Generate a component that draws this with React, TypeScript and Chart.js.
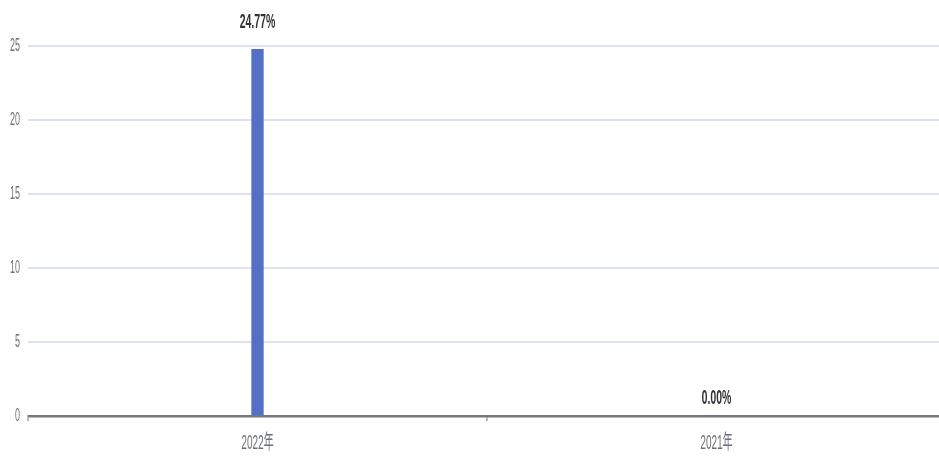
import React, { useEffect, useRef } from "react";
import { Chart, registerables } from "chart.js";

Chart.register(...registerables);

const categories: string[] = ["2022年", "2021年"];
const values: number[] = [24.77, 0];
const yTicks: number[] = [0, 5, 10, 15, 20, 25];

const SX = 0.5; // horizontal squeeze of the reference rendering
const FONT = "'Liberation Sans', 'Noto Sans CJK SC', sans-serif";

const valueLabels = {
  id: "valueLabels",
  afterDatasetsDraw(chart: any) {
    const ctx = chart.ctx;
    const meta = chart.getDatasetMeta(0);
    ctx.save();
    ctx.font = "bold 21px " + FONT;
    ctx.fillStyle = "#333333";
    ctx.textAlign = "center";
    ctx.textBaseline = "bottom";
    meta.data.forEach((el: any, i: number) => {
      const v = values[i];
      const gap = v > 0 ? 17 : 7;
      ctx.fillText(v.toFixed(2) + "%", el.x, el.y - gap);
    });
    ctx.restore();
  },
};

export default function App() {
  const ref = useRef<HTMLCanvasElement | null>(null);
  useEffect(() => {
    document.body.style.margin = "0";
    document.body.style.overflow = "hidden";
    const chart = new Chart(ref.current as HTMLCanvasElement, {
      type: "bar",
      data: {
        labels: categories,
        datasets: [
          {
            data: values,
            backgroundColor: "#5470C6",
            barThickness: 24,
          },
        ],
      },
      options: {
        animation: false,
        responsive: true,
        maintainAspectRatio: false,
        layout: { padding: { top: 46, left: 4, right: 0, bottom: 0 } },
        plugins: { legend: { display: false }, tooltip: { enabled: false } },
        scales: {
          x: {
            grid: {
              offset: true,
              drawOnChartArea: false,
              drawTicks: true,
              tickLength: 5,
              color: "#6E7079",
              lineWidth: 2,
            },
            border: { display: true, color: "#77787E", width: 2.5 },
            ticks: {
              color: "#6E7079",
              padding: 10,
              font: { family: FONT, size: 20 },
            },
          },
          y: {
            min: yTicks[0],
            max: yTicks[yTicks.length - 1],
            afterBuildTicks: (axis: any) => {
              axis.ticks = yTicks.map((v) => ({ value: v }));
            },
            grid: { color: "#DCE3EF", lineWidth: 2, drawTicks: false },
            border: { display: false },
            ticks: {
              color: "#6E7079",
              padding: 16,
              font: { family: FONT, size: 18 },
            },
          },
        },
      },
      plugins: [valueLabels],
    });
    return () => chart.destroy();
  }, []);

  return (
    <div style={{ width: 939, height: 457, overflow: "hidden", position: "relative", background: "#fff" }}>
      <div
        style={{
          position: "absolute",
          left: 0,
          top: 0,
          width: 946 / SX,
          height: 465,
          transform: `scaleX(${SX})`,
          transformOrigin: "0 0",
        }}
      >
        <canvas ref={ref} />
      </div>
    </div>
  );
}
